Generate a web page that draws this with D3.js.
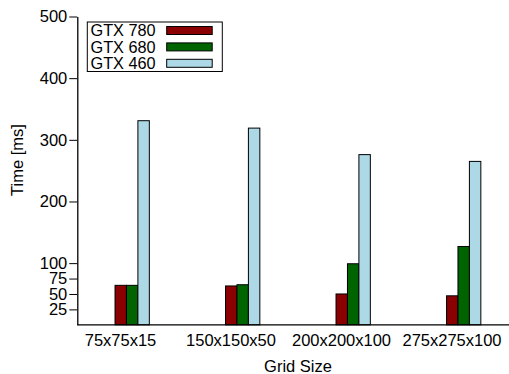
<!DOCTYPE html>
<html><head><meta charset="utf-8">
<script src="https://cdn.jsdelivr.net/npm/d3@7"></script>
<style>body{margin:0;background:#fff}svg{display:block}text{font-family:"Liberation Sans",Arial,sans-serif;fill:#000}</style>
</head><body>
<svg id="c" width="509" height="374"></svg>
<script>
const categories = ["75x75x15","150x150x50","200x200x100","275x275x100"];
const seriesNames = ["GTX 780","GTX 680","GTX 460"];
const gtx780 = [64, 63, 50, 47];
const gtx680 = [64, 65, 99, 127];
const gtx460 = [331, 319, 276, 265];
const yTicks = [25, 50, 75, 100, 200, 300, 400, 500];
const colors = ["#8b0000", "#006400", "#add8e6"];
const series = [gtx780, gtx680, gtx460];

const svg = d3.select("#c");
const x = d3.scaleLinear().domain([0, 3]).range([120, 451.5]);
const y = d3.scaleLinear().domain([0, 500]).range([324.8, 16.5]);
const barW = 0.1035; // in category units
const barOff = -0.045;

// bars
series.forEach((vals, s) => {
  svg.append("g").selectAll("rect").data(vals).join("rect")
    .attr("x", (d, i) => x(i + barOff + s * barW))
    .attr("width", x(barW) - x(0))
    .attr("y", d => y(d))
    .attr("height", d => y(0) - y(d))
    .attr("fill", colors[s])
    .attr("stroke", "#000").attr("stroke-width", 1);
});

// y axis
const yAxis = d3.axisLeft(y).tickValues(yTicks).tickSize(8).tickPadding(2).tickSizeOuter(0);
const gy = svg.append("g").attr("transform", "translate(77.3,0)").call(yAxis);
gy.select(".domain").attr("stroke", "#000").attr("stroke-width", 1.3);
gy.selectAll(".tick line").attr("stroke", "#000");
gy.selectAll(".tick text").attr("font-size", 16.5).attr("font-family", "Liberation Sans, Arial, sans-serif").attr("fill", "#000");

// x axis
const xAxis = d3.axisBottom(x).tickValues(d3.range(categories.length)).tickFormat(i => categories[i]).tickSize(0).tickPadding(9);
const gx = svg.append("g").attr("transform", `translate(0,${y(0)})`).call(xAxis);
gx.select(".domain").attr("d", "M77.3,0H509").attr("stroke", "#000").attr("stroke-width", 1.3);
gx.selectAll(".tick text").attr("font-size", 16.5).attr("font-family", "Liberation Sans, Arial, sans-serif").attr("fill", "#000");

// axis titles
svg.append("text").attr("x", 298).attr("y", 372).attr("text-anchor", "middle").attr("font-size", 16.5).text("Grid Size");
svg.append("text").attr("transform", "translate(23,160) rotate(-90)").attr("text-anchor", "middle").attr("font-size", 16.5).text("Time [ms]");

// legend
const lg = svg.append("g");
lg.append("rect").attr("x", 87.3).attr("y", 22).attr("width", 135).attr("height", 49.5)
  .attr("fill", "#fff").attr("stroke", "#000").attr("stroke-width", 1);
seriesNames.forEach((n, s) => {
  const cy = 30.5 + s * 16.4;
  lg.append("text").attr("x", 90.5).attr("y", cy + 5.8).attr("font-size", 16.3).text(n);
  lg.append("rect").attr("x", 166.7).attr("y", cy - 4).attr("width", 45.5).attr("height", 8)
    .attr("fill", colors[s]).attr("stroke", "#000").attr("stroke-width", 1);
});
</script>
</body></html>
